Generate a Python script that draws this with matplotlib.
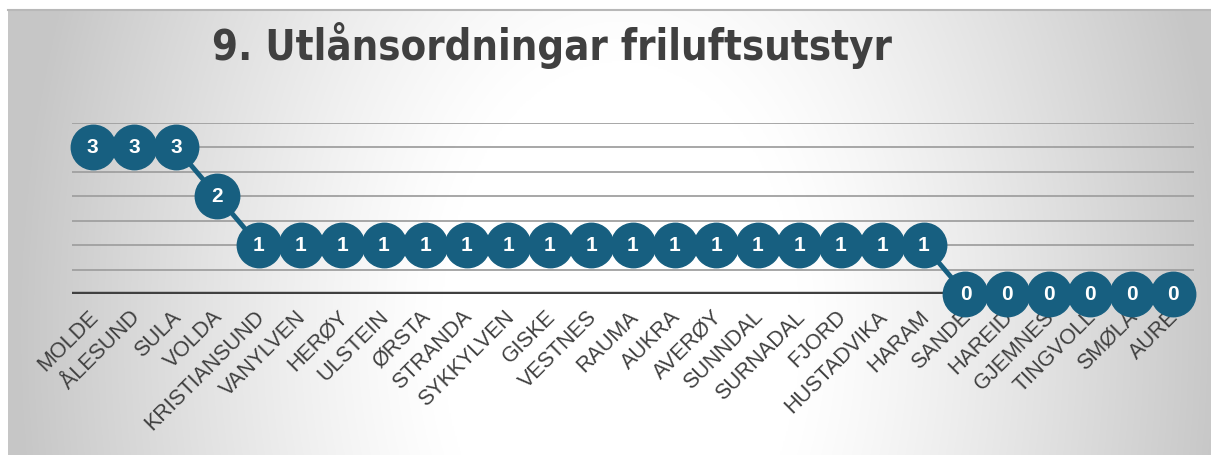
import numpy as np
import matplotlib
matplotlib.use("Agg")
import matplotlib.pyplot as plt
from matplotlib import font_manager
from matplotlib.transforms import ScaledTranslation

categories = ["MOLDE", "ÅLESUND", "SULA", "VOLDA", "KRISTIANSUND", "VANYLVEN", "HERØY",
              "ULSTEIN", "ØRSTA", "STRANDA", "SYKKYLVEN", "GISKE", "VESTNES", "RAUMA",
              "AUKRA", "AVERØY", "SUNNDAL", "SURNADAL", "FJORD", "HUSTADVIKA", "HARAM",
              "SANDE", "HAREID", "GJEMNES", "TINGVOLL", "SMØLA", "AURE"]
values = [3, 3, 3, 2, 1, 1, 1, 1, 1, 1, 1, 1, 1, 1, 1, 1, 1, 1, 1, 1, 1, 0, 0, 0, 0, 0, 0]
title = "9. Utlånsordningar friluftsutstyr"

# pick a condensed bold font for the title if available
cond = [f for f in font_manager.fontManager.ttflist
        if ("Narrow" in f.name or "Condensed" in f.name or f.stretch in ("condensed", "semi-condensed"))
        and f.weight in ("bold", 700)]
if cond:
    title_font = font_manager.FontProperties(fname=cond[0].fname, size=30)
else:
    title_font = font_manager.FontProperties(family="Roboto", weight="bold", size=30)

W, H = 1211, 455
fig = plt.figure(figsize=(W / 100, H / 100), dpi=100)
fig.patch.set_facecolor("white")

# background gradient frame
bg = fig.add_axes([8 / W, 0, (W - 8) / W, (H - 10) / H])
bg.set_axis_off()
ny, nx = 300, 800
yy, xx = np.mgrid[0:ny, 0:nx]
px = 8 + xx / nx * (W - 8)
py = 10 + yy / ny * (H - 10)
d = np.sqrt(((px - 620) / 600) ** 2 + ((py - 330) / 900) ** 2)
t = np.clip((d - 0.3) / 0.7, 0, 1) ** 1.2
g = 1.0 - 0.22 * t
img = np.dstack([g, g, g])
bg.imshow(img, aspect="auto", extent=[0, 1, 0, 1], origin="upper")
bg.plot([0, 1], [1, 1], color="#b8b8b8", lw=1.5, transform=bg.transAxes, clip_on=False)

# main axes: y=0 at 294px, y=3.5 at 123px; x from 72 to 1194
left, right = 72, 1194
bottom_px, top_px = 294, 123
ax = fig.add_axes([left / W, 1 - bottom_px / H, (right - left) / W, (bottom_px - top_px) / H])
ax.patch.set_alpha(0)
x = np.arange(len(categories))
ax.set_xlim(-0.5, len(categories) - 0.5)
ax.set_ylim(0, 3.5)
for yv in np.arange(0.5, 3.51, 0.5):
    ax.axhline(yv, color="#a0a0a0", lw=1.3, zorder=1)
ax.axhline(0, color="#404040", lw=3.2, zorder=2)

col = "#175f80"
ax.plot(x, values, color=col, lw=3.5, marker="o", markersize=32, markerfacecolor=col,
        markeredgecolor=col, zorder=3, clip_on=False)
for xi, v in zip(x, values):
    ax.text(xi, v, str(v), ha="center", va="center", color="white", fontsize=15,
            fontweight="bold", family="Liberation Sans", zorder=4)

for s in ax.spines.values():
    s.set_visible(False)
ax.set_yticks([])
ax.set_xticks(x)
ax.set_xticklabels(categories, rotation=45, ha="right", rotation_mode="anchor",
                   fontsize=15.5, color="#404040", family="Liberation Sans")
ax.tick_params(axis="x", length=0, pad=9)
offset = ScaledTranslation(-5 / 100, 0, fig.dpi_scale_trans)
for lab in ax.get_xticklabels():
    lab.set_transform(lab.get_transform() + offset)

fig.text(552 / W, 1 - 60 / H, title, ha="center", va="baseline",
         fontproperties=title_font, color="#404040")

fig.savefig("out.png", dpi=100, facecolor="white")
